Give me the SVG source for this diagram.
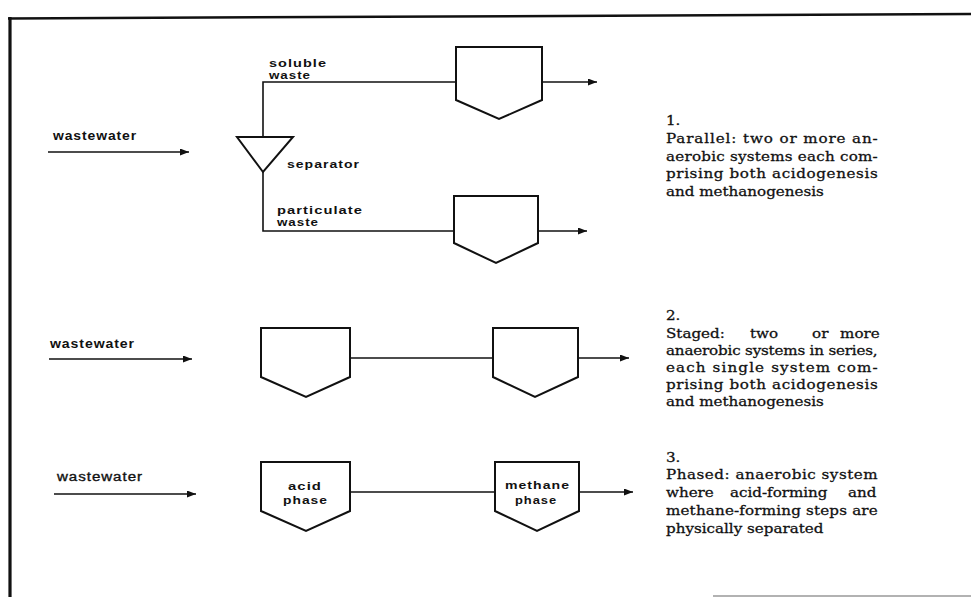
<svg xmlns="http://www.w3.org/2000/svg" width="971" height="597" viewBox="0 0 971 597">
  <defs>
    <marker id="arrow" markerUnits="userSpaceOnUse" markerWidth="9" markerHeight="7" refX="9" refY="3.5" orient="auto">
      <path d="M0,0 L9,3.5 L0,7 z" fill="#111"/>
    </marker>
    <style>
      .frame { stroke: #111; fill: none; }
      .tank { fill: #fff; stroke: #111; stroke-width: 2; stroke-linejoin: miter; }
      .sep { fill: #fff; stroke: #111; stroke-width: 2; }
      .line { fill: none; stroke: #111; stroke-width: 1.6; }
      .flow { fill: none; stroke: #111; stroke-width: 1.6; marker-end: url(#arrow); }
      .lbl { font-family: "Liberation Sans", Arial, sans-serif; font-weight: bold; font-size: 11px; letter-spacing: 0.8px; fill: #111; }
      .lbl-l { font-family: "Liberation Sans", Arial, sans-serif; font-weight: bold; font-size: 12.5px; letter-spacing: 0.8px; fill: #111; }
      .lbl-n { font-weight: normal; stroke: #111; stroke-width: 0.35; }
      .desc { font-family: "DejaVu Serif", "Liberation Serif", serif; font-size: 13.5px; fill: #111; stroke: #111; stroke-width: 0.3; }
    </style>
  </defs>

  <rect width="971" height="597" fill="#fff"/>

  <!-- page frame -->
  <g id="frame">
    <path class="frame" d="M8,18.5 L971,14" stroke-width="2.5"/>
    <path class="frame" d="M10,17 L10,597" stroke-width="3.2"/>
    <path d="M713,596 L971,596" stroke="#999" stroke-width="1.5"/>
  </g>

  <!-- connectors -->
  <g id="connectors">
    <!-- 1. parallel -->
    <path class="flow" d="M48,152 L189,152"/>
    <path class="line" d="M263,137 L263,82 L456,82"/>
    <path class="flow" d="M542,82 L597,82"/>
    <path class="line" d="M263,172 L263,231 L454,231"/>
    <path class="flow" d="M538,231 L587,231"/>
    <!-- 2. staged -->
    <path class="flow" d="M49,359 L192,359"/>
    <path class="line" d="M350,358 L493,358"/>
    <path class="flow" d="M578,358 L629,358"/>
    <!-- 3. phased -->
    <path class="flow" d="M54,494 L196,494"/>
    <path class="line" d="M350,492 L495,492"/>
    <path class="flow" d="M579,492 L633,492"/>
  </g>

  <!-- 1. parallel -->
  <g id="ww1"><text class="lbl-l" x="53" y="140" textLength="84" lengthAdjust="spacingAndGlyphs">wastewater</text></g>
  <g id="separator">
    <polygon class="sep" points="237,137 293,137 263,172"/>
    <text class="lbl" x="287" y="168" textLength="73" lengthAdjust="spacingAndGlyphs">separator</text>
  </g>
  <g id="soluble-label">
    <text class="lbl" x="269" y="67" textLength="58" lengthAdjust="spacingAndGlyphs">soluble</text>
    <text class="lbl" x="269" y="79" textLength="42" lengthAdjust="spacingAndGlyphs">waste</text>
  </g>
  <g id="particulate-label">
    <text class="lbl" x="277" y="214" textLength="86" lengthAdjust="spacingAndGlyphs">particulate</text>
    <text class="lbl" x="277" y="226" textLength="42" lengthAdjust="spacingAndGlyphs">waste</text>
  </g>
  <g id="tank-soluble"><polygon class="tank" points="456,47 542,47 542,100 499,119 456,100"/></g>
  <g id="tank-particulate"><polygon class="tank" points="454,196 538,196 538,243 496,263 454,243"/></g>

  <!-- 2. staged -->
  <g id="ww2"><text class="lbl-l" x="50" y="348" textLength="85" lengthAdjust="spacingAndGlyphs">wastewater</text></g>
  <g id="tank-stage1"><polygon class="tank" points="261,328 350,328 350,377 306,397 261,377"/></g>
  <g id="tank-stage2"><polygon class="tank" points="493,328 578,328 578,377 535,397 493,377"/></g>

  <!-- 3. phased -->
  <g id="ww3"><text class="lbl-l lbl-n" x="57" y="481" textLength="86" lengthAdjust="spacingAndGlyphs">wastewater</text></g>
  <g id="tank-acid">
    <polygon class="tank" points="261,462 350,462 350,511 306,531 261,511"/>
    <text class="lbl" x="305" y="490" text-anchor="middle" textLength="34" lengthAdjust="spacingAndGlyphs">acid</text>
    <text class="lbl" x="305.5" y="504" text-anchor="middle" textLength="45" lengthAdjust="spacingAndGlyphs">phase</text>
  </g>
  <g id="tank-methane">
    <polygon class="tank" points="495,462 579,462 579,511 537,531 495,511"/>
    <text class="lbl" x="537.5" y="489" text-anchor="middle" textLength="65" lengthAdjust="spacingAndGlyphs">methane</text>
    <text class="lbl" x="536" y="504" text-anchor="middle" textLength="42" lengthAdjust="spacingAndGlyphs">phase</text>
  </g>

  <!-- descriptions (slightly widened serif face) -->
  <g id="desc1" transform="translate(666 0) scale(1.12 1)">
    <text class="desc" x="0" y="125">1.</text>
    <text class="desc" x="0" y="143" textLength="189" lengthAdjust="spacing">Parallel: two or more an-</text>
    <text class="desc" x="0" y="161" textLength="189" lengthAdjust="spacing">aerobic systems each com-</text>
    <text class="desc" x="0" y="178.5" textLength="189" lengthAdjust="spacing">prising both acidogenesis</text>
    <text class="desc" x="0" y="196">and methanogenesis</text>
  </g>
  <g id="desc2" transform="translate(666 0) scale(1.12 1)">
    <text class="desc" x="0" y="320">2.</text>
    <text class="desc" y="338"><tspan x="0">Staged:</tspan><tspan x="75">two</tspan><tspan x="130.4">or</tspan><tspan x="155.4">more</tspan></text>
    <text class="desc" x="0" y="355" textLength="189" lengthAdjust="spacing">anaerobic systems in series,</text>
    <text class="desc" x="0" y="372" textLength="189" lengthAdjust="spacing">each single system com-</text>
    <text class="desc" x="0" y="389" textLength="189" lengthAdjust="spacing">prising both acidogenesis</text>
    <text class="desc" x="0" y="406">and methanogenesis</text>
  </g>
  <g id="desc3" transform="translate(666 0) scale(1.12 1)">
    <text class="desc" x="0" y="462">3.</text>
    <text class="desc" x="0" y="479" textLength="189" lengthAdjust="spacing">Phased: anaerobic system</text>
    <text class="desc" y="497"><tspan x="0">where</tspan><tspan x="57.1">acid-forming</tspan><tspan x="162.5">and</tspan></text>
    <text class="desc" x="0" y="515" textLength="189" lengthAdjust="spacing">methane-forming steps are</text>
    <text class="desc" x="0" y="533">physically separated</text>
  </g>
</svg>
